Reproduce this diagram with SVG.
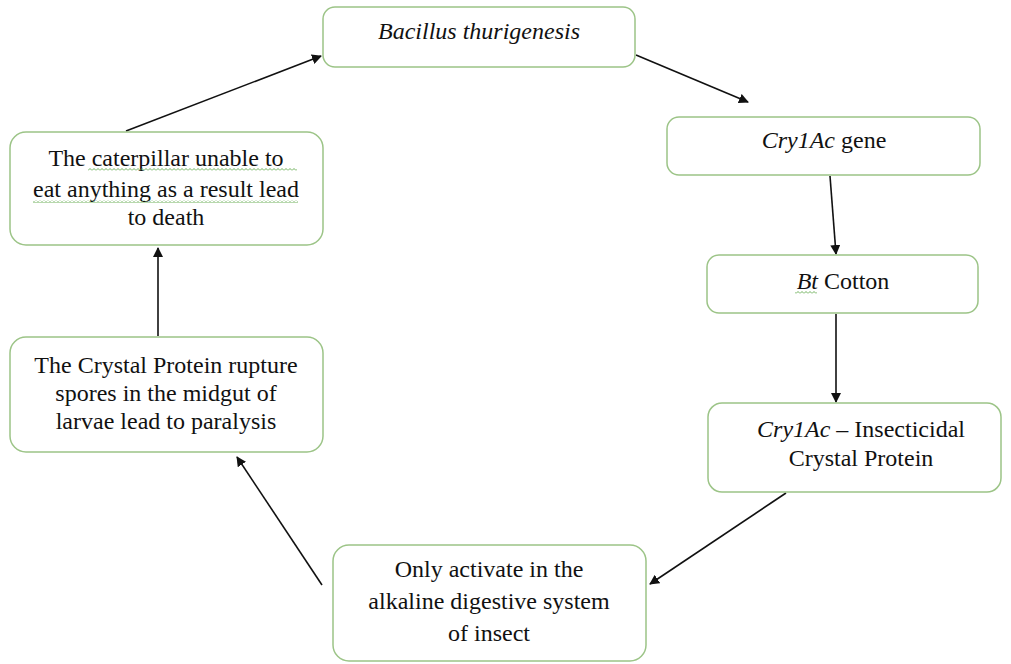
<svg xmlns="http://www.w3.org/2000/svg" width="1011" height="664" viewBox="0 0 1011 664">
<style>
.box{fill:#fff;stroke:#9cc487;stroke-width:1.5}
.t{font-family:"Liberation Serif","Times New Roman",serif;font-size:24px;fill:#111;text-anchor:middle}
.i{font-style:italic}
.c{stroke:#111;stroke-width:1.6;fill:none;marker-end:url(#ah)}
</style>
<defs>
<marker id="ah" viewBox="0 0 10 10" refX="9" refY="5" markerWidth="10" markerHeight="10" markerUnits="userSpaceOnUse" orient="auto">
<path d="M0,0 L10,5 L0,10 z" fill="#111"/>
</marker>
<pattern id="wave" width="4" height="3" patternUnits="userSpaceOnUse">
<path d="M0,2.5 L2,0.5 L4,2.5" stroke="#5fa84a" stroke-width="0.9" fill="none"/>
</pattern>
</defs>
<rect width="1011" height="664" fill="#fff"/>
<g id="connectors">
<line class="c" x1="126" y1="131" x2="321" y2="56"/>
<line class="c" x1="636" y1="55" x2="748" y2="102"/>
<line class="c" x1="830" y1="176" x2="836" y2="254"/>
<line class="c" x1="836" y1="314" x2="836" y2="402"/>
<line class="c" x1="786" y1="493" x2="650" y2="584"/>
<line class="c" x1="322" y1="585" x2="237" y2="457"/>
<line class="c" x1="158" y1="336" x2="158" y2="248"/>
</g>
<g id="n1">
<rect class="box" x="323" y="7" width="312" height="60" rx="12"/>
<text class="t i" x="479" y="39">Bacillus thurigenesis</text>
</g>
<g id="n2">
<rect class="box" x="667" y="117" width="313" height="58" rx="12"/>
<text class="t" x="824" y="148"><tspan class="i">Cry1Ac</tspan> gene</text>
</g>
<g id="n3">
<rect class="box" x="707" y="255" width="271" height="58" rx="12"/>
<text class="t" x="843" y="289"><tspan class="i">Bt</tspan> Cotton</text>
<rect x="795" y="291" width="22" height="3" fill="url(#wave)"/>
</g>
<g id="n4">
<rect class="box" x="708" y="403" width="293" height="89" rx="14"/>
<text class="t" x="861" y="437"><tspan class="i">Cry1Ac</tspan> – Insecticidal</text>
<text class="t" x="861" y="466">Crystal Protein</text>
</g>
<g id="n5">
<rect class="box" x="333" y="545" width="313" height="116" rx="16"/>
<text class="t" x="489" y="577">Only activate in the</text>
<text class="t" x="489" y="609">alkaline digestive system</text>
<text class="t" x="489" y="641">of insect</text>
</g>
<g id="n6">
<rect class="box" x="10" y="337" width="313" height="115" rx="16"/>
<text class="t" x="166" y="373">The Crystal Protein rupture</text>
<text class="t" x="166" y="401">spores in the midgut of</text>
<text class="t" x="166" y="429">larvae lead to paralysis</text>
</g>
<g id="n7">
<rect class="box" x="10" y="132" width="313" height="113" rx="16"/>
<text class="t" x="166" y="166">The caterpillar unable to</text>
<text class="t" x="166" y="197">eat anything as a result lead</text>
<text class="t" x="166" y="225">to death</text>
<rect x="88" y="168" width="209" height="3" fill="url(#wave)"/>
<rect x="33" y="200" width="265" height="3" fill="url(#wave)"/>
</g>
</svg>
